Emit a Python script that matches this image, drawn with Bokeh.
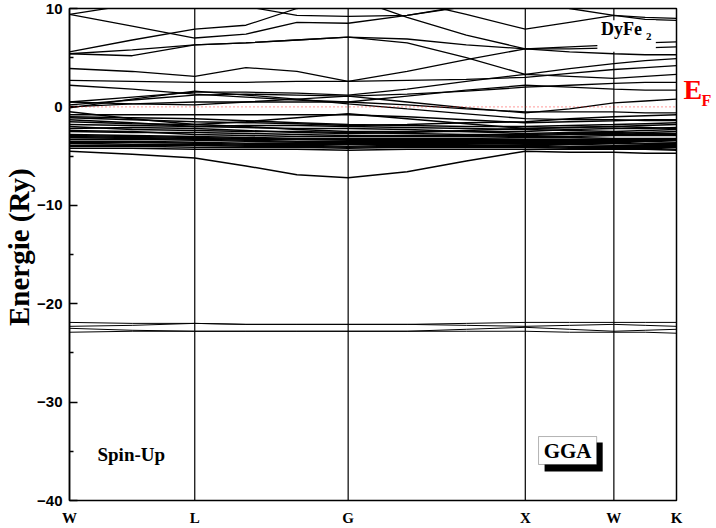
from bokeh.plotting import figure
from bokeh.models import Span, Label, BoxAnnotation, FixedTicker, LinearAxis, Title
from bokeh.embed import file_html
from bokeh.resources import INLINE

# high-symmetry points and their path positions (units of 2*pi/a)
sym_labels = ["W", "L", "G", "X", "W", "K"]
sym_k = [0.0, 0.7071, 1.5731, 2.5731, 3.0731, 3.4267]

# k positions where band energies were read
k_samples = [0.0, 0.354, 0.7071, 0.996, 1.284, 1.5731, 1.906, 2.240,
             2.5731, 2.823, 3.0731, 3.250, 3.4267]

# band energies at k_samples
U1 = [9.4, 10.4, 11.0, 10.2, 9.3, 9.2, 9.3, 10.3, 11.0, 11.2, 11.2, 11.2, 11.2]
U2 = [11.2, 11.2, 11.2, 11.2, 11.2, 11.2, 9.1, 7.3, 5.9, 5.9, 6.0, 6.0, 6.1]
U3 = [11.2, 11.2, 11.2, 11.2, 11.2, 11.2, 10.8, 9.4, 7.9, 8.6, 9.3, 9.1, 9.0]
U3b = [11.2, 11.2, 11.2, 11.2, 11.2, 11.2, 11.2, 11.2, 11.2, 10.0, 9.3, 8.9, 8.8]
U4 = [9.4, 8.2, 7.0, 7.4, 8.6, 8.5, 9.3, 10.2, 10.9, 11.2, 11.2, 11.2, 11.2]
U5 = [5.6, 6.8, 7.9, 8.3, 10.0, 11.2, 11.2, 11.2, 11.2, 11.2, 11.2, 11.2, 11.2]
U6 = [5.4, 5.8, 6.3, 6.5, 6.8, 7.1, 6.9, 6.3, 5.9, 6.1, 6.3, 6.5, 6.6]
U7 = [5.4, 5.2, 6.3, 6.5, 6.8, 7.1, 6.5, 5.0, 3.3, 3.9, 4.4, 4.7, 4.9]
U8 = [3.9, 3.6, 3.1, 4.0, 3.6, 2.6, 3.6, 4.8, 5.9, 5.6, 5.4, 5.3, 5.3]
U9 = [2.7, 2.6, 2.5, 2.5, 2.6, 2.6, 2.7, 2.8, 3.0, 3.4, 3.8, 4.0, 4.2]
M1 = [2.2, 1.8, 1.3, 1.0, 0.7, 0.5, 1.1, 1.7, 2.2, 2.0, 1.8, 1.7, 1.7]
M2 = [0.5, 1.0, 1.5, 1.5, 1.4, 1.2, 1.8, 2.6, 3.3, 3.1, 2.9, 3.1, 3.3]
M3 = [0.0, 0.3, 0.5, 0.5, 0.5, 0.5, 0.2, -0.2, -0.5, -0.5, -0.5, -0.6, -0.6]
M4 = [0.2, 0.7, 1.2, 1.3, 1.2, 1.1, 1.3, 1.6, 2.0, 2.2, 2.4, 2.5, 2.5]
C1 = [0.5, 0.3, 0.2, 0.5, 0.8, 1.1, 0.5, -0.1, -0.6, -0.2, 0.4, 0.6, 0.8]
C3 = [-0.1, 0.8, 1.6, 1.2, 0.8, 0.3, -0.2, -0.7, -1.2, -1.3, -1.3, -1.4, -1.4]
D1 = [-0.8, -0.8, -0.8, -0.8, -0.8, -0.8, -1.0, -1.3, -1.6, -1.5, -1.4, -1.3, -1.3]
D2 = [-0.5, -1.2, -1.8, -1.5, -1.1, -0.7, -1.2, -1.7, -2.2, -2.1, -2.0, -1.9, -1.8]
D3 = [-1.1, -1.3, -1.5, -1.6, -1.7, -1.9, -1.8, -1.6, -1.5, -1.2, -1.0, -0.9, -0.8]
D4 = [-1.3, -1.6, -2.0, -1.9, -1.9, -2.0, -2.1, -2.2, -2.3, -2.4, -2.5, -2.4, -2.3]
D5 = [-1.8, -1.9, -2.0, -2.1, -2.2, -2.2, -2.3, -2.5, -2.7, -2.6, -2.6, -2.7, -2.7]
D6 = [-2.2, -2.1, -2.2, -2.4, -2.6, -2.7, -2.6, -2.4, -2.2, -2.1, -2.0, -2.1, -2.2]
D7 = [-2.5, -2.6, -2.6, -2.7, -2.8, -2.9, -2.9, -2.9, -3.0, -3.0, -2.9, -2.9, -2.9]
D8 = [-2.8, -2.9, -3.0, -3.1, -3.2, -3.2, -3.2, -3.2, -3.1, -3.1, -3.2, -3.2, -3.2]
D9 = [-3.0, -3.1, -3.2, -3.3, -3.3, -3.4, -3.4, -3.4, -3.4, -3.4, -3.4, -3.4, -3.4]
D10 = [-3.3, -3.3, -3.4, -3.5, -3.6, -3.6, -3.6, -3.6, -3.6, -3.6, -3.6, -3.7, -3.7]
D11 = [-3.5, -3.5, -3.6, -3.7, -3.7, -3.7, -3.7, -3.7, -3.8, -3.8, -3.9, -3.9, -3.9]
D12 = [-3.7, -3.8, -3.8, -3.9, -3.9, -4.0, -3.9, -3.9, -3.9, -4.0, -4.0, -4.0, -4.0]
D13 = [-4.0, -4.0, -4.1, -4.1, -4.1, -4.2, -4.1, -4.1, -4.1, -4.2, -4.2, -4.2, -4.3]
D14 = [-1.5, -1.7, -1.8, -2.0, -2.3, -2.5, -2.5, -2.5, -2.5, -2.3, -2.2, -2.2, -2.1]
D15 = [-2.0, -2.3, -2.4, -2.5, -2.5, -2.6, -2.7, -2.8, -2.8, -2.7, -2.7, -2.6, -2.5]
D16 = [-2.4, -2.5, -2.8, -2.9, -3.0, -3.0, -3.0, -3.0, -2.9, -2.8, -2.8, -2.8, -2.8]
D17 = [-2.9, -3.0, -3.1, -3.2, -3.3, -3.3, -3.3, -3.3, -3.3, -3.3, -3.3, -3.3, -3.3]
D18 = [-3.1, -3.2, -3.3, -3.4, -3.5, -3.5, -3.5, -3.5, -3.5, -3.5, -3.5, -3.5, -3.6]
D19 = [-3.6, -3.6, -3.7, -3.8, -3.8, -3.8, -3.8, -3.8, -3.7, -3.7, -3.7, -3.8, -3.8]
D20 = [-3.9, -3.9, -3.9, -4.0, -4.0, -4.1, -4.0, -4.0, -4.0, -4.1, -4.1, -4.1, -4.1]
D21 = [-4.2, -4.2, -4.3, -4.3, -4.3, -4.4, -4.3, -4.3, -4.3, -4.3, -4.3, -4.3, -4.4]
D22 = [-1.0, -1.1, -1.2, -1.4, -1.6, -1.8, -1.9, -2.0, -2.0, -1.9, -1.8, -1.7, -1.6]
L1 = [-4.5, -4.8, -5.2, -6.0, -6.9, -7.2, -6.6, -5.5, -4.5, -4.6, -4.6, -4.7, -4.7]
S1 = [-21.9, -22.0, -22.0, -22.1, -22.1, -22.1, -22.1, -22.0, -21.9, -21.9, -21.9, -21.9, -21.9]
S2 = [-22.3, -22.2, -22.0, -22.1, -22.1, -22.1, -22.1, -22.2, -22.3, -22.2, -22.1, -22.2, -22.3]
S3 = [-22.5, -22.7, -22.8, -22.8, -22.8, -22.8, -22.8, -22.6, -22.4, -22.6, -22.8, -22.7, -22.6]
S4 = [-22.9, -22.8, -22.8, -22.8, -22.8, -22.8, -22.8, -22.8, -22.8, -22.9, -22.9, -22.9, -23.0]

upper_bands = [U1, U2, U3, U3b, U4, U5, U6, U7, U8, U9, M1, M2, M3, M4, C1, C3]
dense_bands = [D1, D2, D3, D4, D5, D6, D7, D8, D9, D10, D11, D12, D13,
               D14, D15, D16, D17, D18, D19, D20, D21, D22, L1]
semicore_bands = [S1, S2, S3, S4]

y_ticks = [-40, -30, -20, -10, 0, 10]
y_minor = [-35, -25, -15, -5, 5]
E_fermi = 0.0

p = figure(width=716, height=528, x_range=(sym_k[0], sym_k[-1]), y_range=(-40, 10),
           output_backend="svg", toolbar_location=None,
           min_border_left=69, min_border_right=40, min_border_top=8, min_border_bottom=28)
p.background_fill_color = "white"
p.border_fill_color = "white"
p.outline_line_color = "black"
p.outline_line_width = 1.5
p.xgrid.visible = False
p.ygrid.visible = False

p.multi_line(xs=[k_samples] * len(upper_bands), ys=upper_bands,
             line_color="black", line_width=1.3)
p.multi_line(xs=[k_samples] * len(dense_bands), ys=dense_bands,
             line_color="black", line_width=1.5)
p.multi_line(xs=[k_samples] * len(semicore_bands), ys=semicore_bands,
             line_color="black", line_width=1.0)

for kv in sym_k[1:-1]:
    p.add_layout(Span(location=kv, dimension="height", line_color="black", line_width=1.2))
p.add_layout(Span(location=E_fermi, dimension="width", line_color="red",
                  line_dash="1 3", line_width=1, line_alpha=0.8))

# y axis
p.yaxis.ticker = FixedTicker(ticks=y_ticks, minor_ticks=y_minor)
p.yaxis.major_tick_in = 8
p.yaxis.major_tick_out = 0
p.yaxis.minor_tick_in = 4
p.yaxis.minor_tick_out = 0
p.yaxis.major_tick_line_width = 1.5
p.yaxis.minor_tick_line_width = 1.5
p.yaxis.axis_line_width = 1.5
p.yaxis.major_label_text_font = "Liberation Sans"
p.yaxis.major_label_text_font_style = "bold"
p.yaxis.major_label_text_font_size = "15px"
p.yaxis.major_label_text_color = "black"
p.yaxis.major_label_standoff = 7

# y axis title as a left-side title panel (two no-break spaces nudge it upward)
p.add_layout(Title(text="\u00a0\u00a0Energie (Ry)", align="center", standoff=0,
                   text_font="Liberation Serif", text_font_style="bold",
                   text_font_size="29px", text_color="black"), "left")

# x axis
p.xaxis.ticker = FixedTicker(ticks=sym_k)
p.xaxis.major_label_overrides = {kv: lab for kv, lab in zip(sym_k, sym_labels)}
p.xaxis.major_tick_line_color = None
p.xaxis.major_tick_in = 0
p.xaxis.major_tick_out = 0
p.xaxis.minor_tick_line_color = None
p.xaxis.minor_tick_in = 0
p.xaxis.minor_tick_out = 0
p.xaxis.axis_line_color = None
p.xaxis.major_label_text_font = "Liberation Serif"
p.xaxis.major_label_text_font_style = "bold"
p.xaxis.major_label_text_font_size = "15px"
p.xaxis.major_label_text_color = "black"
p.xaxis.major_label_standoff = 9

# E_F marker as right-side axes: "E" then subscript "F"
ef_E_pos = [1.72]
ef_F_pos = [0.6]
ax_E = LinearAxis(ticker=FixedTicker(ticks=ef_E_pos),
                  major_label_overrides={ef_E_pos[0]: "E"})
ax_F = LinearAxis(ticker=FixedTicker(ticks=ef_F_pos),
                  major_label_overrides={ef_F_pos[0]: "F"})
for ax, size, stand in [(ax_E, "28px", 7), (ax_F, "16px", -4)]:
    ax.axis_line_color = None
    ax.major_tick_line_color = None
    ax.minor_tick_line_color = None
    ax.major_tick_in = 0
    ax.major_tick_out = 0
    ax.minor_tick_in = 0
    ax.minor_tick_out = 0
    ax.major_label_standoff = stand
    ax.major_label_text_font = "Liberation Serif"
    ax.major_label_text_font_style = "bold"
    ax.major_label_text_font_size = size
    ax.major_label_text_color = "red"
p.add_layout(ax_E, "right")
p.add_layout(ax_F, "right")

# DyFe2 label with white background
p.add_layout(BoxAnnotation(left=2.98, right=3.31, top=8.8, bottom=5.6,
                           fill_color="white", fill_alpha=1.0, line_color=None))
p.add_layout(Label(x=3.0, y=7.87, text="DyFe", text_font="Liberation Serif",
                   text_font_style="bold", text_font_size="18px", text_color="black",
                   text_baseline="alphabetic"))
p.add_layout(Label(x=3.255, y=7.15, text="2", text_font="Liberation Serif",
                   text_font_style="bold", text_font_size="11px", text_color="black",
                   text_baseline="alphabetic"))

# Spin-Up
p.add_layout(Label(x=0.158, y=-35.3, text="Spin-Up", text_font="Liberation Serif",
                   text_font_style="bold", text_font_size="19px", text_color="black",
                   text_baseline="alphabetic"))

# GGA box with shadow
p.add_layout(BoxAnnotation(left=2.682, right=3.010, top=-34.1, bottom=-37.05,
                           fill_color="black", fill_alpha=1.0, line_color=None))
p.add_layout(BoxAnnotation(left=2.648, right=2.976, top=-33.5, bottom=-36.34,
                           fill_color="white", fill_alpha=1.0, line_color="black",
                           line_width=1))
p.add_layout(Label(x=2.812, y=-35.02, text="GGA", text_font="Liberation Serif",
                   text_font_style="bold", text_font_size="21px", text_color="black",
                   text_align="center", text_baseline="alphabetic"))

open("out.html", "w").write(file_html(p, INLINE))
